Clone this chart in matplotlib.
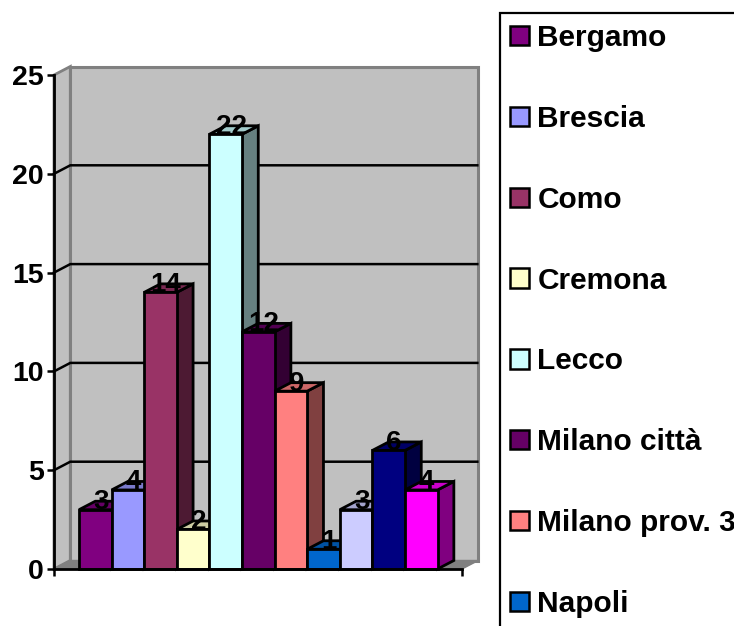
import matplotlib.pyplot as plt
from matplotlib.patches import Patch, Rectangle

plt.rcParams["font.family"] = ["Liberation Sans", "DejaVu Sans"]
plt.rcParams["font.weight"] = "bold"

W, H = 734, 626

# valori
values = [3, 4, 14, 2, 22, 12, 9, 1, 3, 6, 4]
colors = ["#800080", "#9999FF", "#993366", "#FFFFCC", "#CCFFFF", "#660066",
          "#FF8080", "#0066CC", "#CCCCFF", "#000080", "#FF00FF"]
legend_labels = ["Bergamo", "Brescia", "Como", "Cremona", "Lecco",
                 "Milano città", "Milano prov. 3", "Napoli"]
y_ticks = [0, 5, 10, 15, 20, 25]


def shade(hex_color, k):
    r, g, b = [int(hex_color[i:i + 2], 16) / 255 for i in (1, 3, 5)]
    return (r * k, g * k, b * k)


fig = plt.figure(figsize=(W / 100, H / 100), dpi=100)
ax = fig.add_axes([54 / W, (H - 569) / H, (462 - 54) / W, (569 - 75) / H])
ax.patch.set_visible(False)

# scala: ogni barra larga 1 unita', la prima parte da 0
x_left, x_right = -0.767, 11.75
ax.set_xlim(x_left, x_right)
ax.set_ylim(0, 25)
dx = 0.5   # profondita' 3D in orizzontale
dy = 0.43  # profondita' 3D in verticale
top = y_ticks[-1]

# pareti e pavimento
ax.fill([x_left, x_left + dx, x_left + dx, x_left],
        [0, dy, top + dy, top], fc="#C0C0C0", ec="#808080", lw=2,
        clip_on=False, zorder=1)
ax.fill([x_left + dx, x_right + dx, x_right + dx, x_left + dx],
        [dy, dy, top + dy, top + dy], fc="#C0C0C0", ec="#808080", lw=2.2,
        clip_on=False, zorder=1)
ax.fill([x_left, x_right, x_right + dx, x_left + dx],
        [0, 0, dy, dy], fc="#808080", ec="#808080", lw=1,
        clip_on=False, zorder=1)

# griglia su parete laterale e di fondo
for t in y_ticks[1:-1]:
    ax.plot([x_left, x_left + dx, x_right + dx - 0.03], [t, t + dy, t + dy],
            color="black", lw=1.8, clip_on=False, zorder=2)

# barre: fianco, faccia superiore, fronte
for i, (v, c) in enumerate(zip(values, colors)):
    ax.fill([i + 1, i + 1 + dx, i + 1 + dx, i + 1], [0, dy, v + dy, v],
            fc=shade(c, 0.5), ec="black", lw=2, clip_on=False, zorder=3)
    ax.fill([i, i + 1, i + 1 + dx, i + dx], [v, v, v + dy, v + dy],
            fc=shade(c, 0.8), ec="black", lw=2, clip_on=False, zorder=3)
    ax.fill([i, i + 1, i + 1, i], [0, 0, v, v],
            fc=c, ec="black", lw=2, clip_on=False, zorder=3)

for i, v in enumerate(values):
    ax.annotate(str(v), (i + 0.5, v), xytext=(4, 5.5), textcoords="offset points",
                ha="center", va="center", fontsize=20, color="black",
                zorder=5, annotation_clip=False)

for side in ["top", "right"]:
    ax.spines[side].set_visible(False)
for side in ["left", "bottom"]:
    ax.spines[side].set_linewidth(2)
    ax.spines[side].set_zorder(4)

ax.set_yticks(y_ticks)
ax.set_xticks([x_left, x_right])
ax.set_xticklabels([])
ax.tick_params(axis="both", length=5, width=1.8, labelsize=20.5, pad=2.5)

# legenda: la cornice esce dall'immagine come nell'originale
fig.add_artist(Rectangle((500 / W, -0.2), 1, 1.2 - 13 / H, fill=False, ec="black",
                         lw=1.6, transform=fig.transFigure))
handles = [Patch(fc=c, ec="black", lw=1.8) for c in colors[:len(legend_labels)]]
fig.legend(handles, legend_labels, loc="upper left",
           bbox_to_anchor=(510 / W, 1 - 24 / H), frameon=False, fontsize=21.5,
           handlelength=0.62, handleheight=0.62, handletextpad=0.3,
           labelspacing=1.77, borderpad=0, borderaxespad=0)

plt.savefig("out.png", dpi=100)
